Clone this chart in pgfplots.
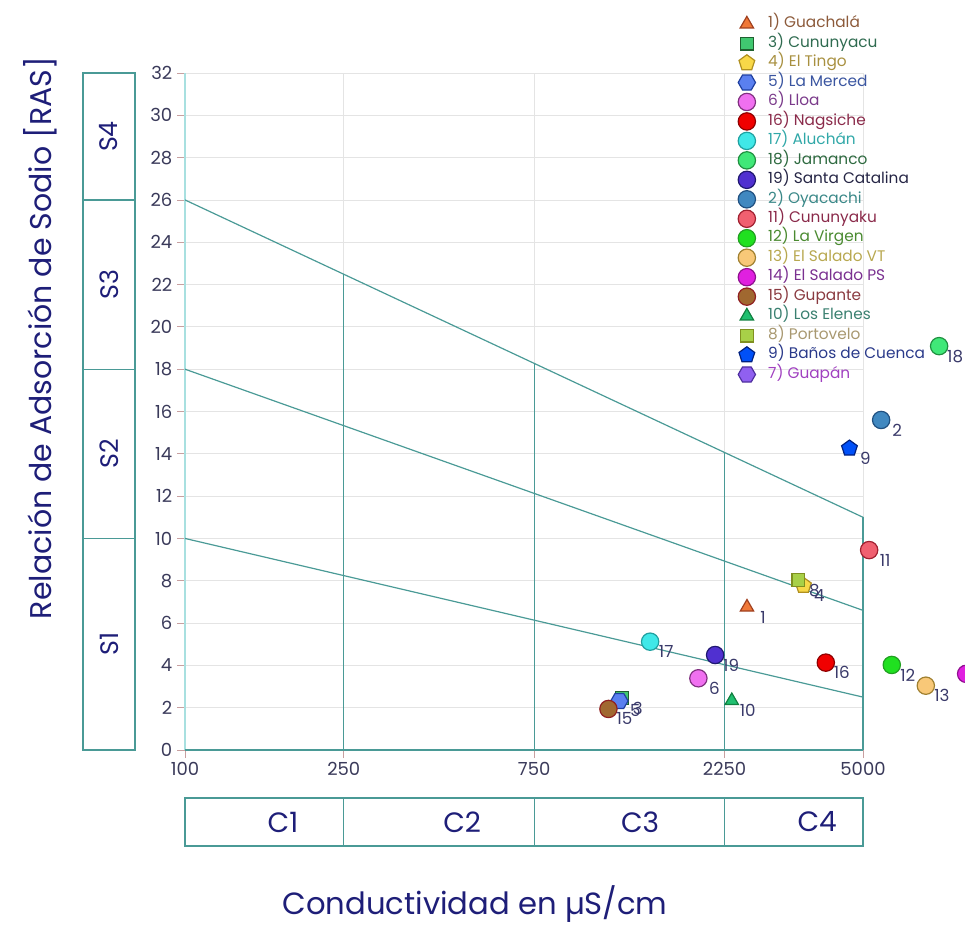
\documentclass[border=0pt]{standalone}
\usepackage{pgfplots}
\pgfplotsset{compat=1.18}
\usepackage{fontspec}
\setmainfont{Poppins}
\usetikzlibrary{plotmarks}

\pgfdeclareplotmark{hexagon*}{%
  \pgfpathmoveto{\pgfpointpolar{0}{\pgfplotmarksize}}%
  \pgfpathlineto{\pgfpointpolar{60}{\pgfplotmarksize}}%
  \pgfpathlineto{\pgfpointpolar{120}{\pgfplotmarksize}}%
  \pgfpathlineto{\pgfpointpolar{180}{\pgfplotmarksize}}%
  \pgfpathlineto{\pgfpointpolar{240}{\pgfplotmarksize}}%
  \pgfpathlineto{\pgfpointpolar{300}{\pgfplotmarksize}}%
  \pgfpathclose
  \pgfusepathqfillstroke}

\definecolor{tealc}{HTML}{4A9A96}
\definecolor{gridgray}{HTML}{E4E4E4}
\definecolor{tickred}{HTML}{C8A0A0}
\definecolor{ticktext}{HTML}{3A3A5A}
\definecolor{navy}{HTML}{1E1E78}
\definecolor{leftaxis}{HTML}{A8E0E0}
\definecolor{labtext}{HTML}{3A3A6A}
% marker fills / edges / legend text
\definecolor{f1}{HTML}{F07838}\definecolor{d1}{HTML}{A04020}\definecolor{t1}{HTML}{8C5A3A}
\definecolor{f3}{HTML}{40C870}\definecolor{d3}{HTML}{206030}\definecolor{t3}{HTML}{2F6B50}
\definecolor{f4}{HTML}{F8D848}\definecolor{d4}{HTML}{B09020}\definecolor{t4}{HTML}{A89040}
\definecolor{f5}{HTML}{5A80F0}\definecolor{d5}{HTML}{2040A0}\definecolor{t5}{HTML}{3A55A0}
\definecolor{f6}{HTML}{F070F0}\definecolor{d6}{HTML}{803080}\definecolor{t6}{HTML}{7A3A8A}
\definecolor{f16}{HTML}{F00000}\definecolor{d16}{HTML}{900000}\definecolor{t16}{HTML}{8A2A4A}
\definecolor{f17}{HTML}{40E8E8}\definecolor{d17}{HTML}{20A0A0}\definecolor{t17}{HTML}{30A8A8}
\definecolor{f18}{HTML}{40E878}\definecolor{d18}{HTML}{209040}\definecolor{t18}{HTML}{2E6A40}
\definecolor{f19}{HTML}{5030D0}\definecolor{d19}{HTML}{201870}\definecolor{t19}{HTML}{252545}
\definecolor{f2}{HTML}{4088C0}\definecolor{d2}{HTML}{205080}\definecolor{t2}{HTML}{3A8888}
\definecolor{f11}{HTML}{F06070}\definecolor{d11}{HTML}{A02030}\definecolor{t11}{HTML}{8A2A4A}
\definecolor{f12}{HTML}{20E020}\definecolor{d12}{HTML}{20A020}\definecolor{t12}{HTML}{4A8A30}
\definecolor{f13}{HTML}{F8C878}\definecolor{d13}{HTML}{A08030}\definecolor{t13}{HTML}{B8A850}
\definecolor{f14}{HTML}{E020E0}\definecolor{d14}{HTML}{901090}\definecolor{t14}{HTML}{7A3090}
\definecolor{f15}{HTML}{A06830}\definecolor{d15}{HTML}{902020}\definecolor{t15}{HTML}{8A3A40}
\definecolor{f10}{HTML}{20C070}\definecolor{d10}{HTML}{108040}\definecolor{t10}{HTML}{3A8070}
\definecolor{f8}{HTML}{A8D048}\definecolor{d8}{HTML}{809020}\definecolor{t8}{HTML}{A89870}
\definecolor{f9}{HTML}{0050F8}\definecolor{d9}{HTML}{002080}\definecolor{t9}{HTML}{2A3A8A}
\definecolor{f7}{HTML}{9060F0}\definecolor{d7}{HTML}{5030A0}\definecolor{t7}{HTML}{A040C0}

\pgfplotsset{
  pt/.style n args={4}{only marks, mark=#1, mark size=#2,
    mark options={fill=f#3, draw=d#3, line width=0.9pt},
    nodes near coords={#4}},
}

\begin{document}
\begin{tikzpicture}
\begin{axis}[
  name=ax,
  scale only axis,
  width=508.5pt, height=507.75pt,
  xmode=log, xmin=100, xmax=5000, ymin=0, ymax=32,
  xtick={100,250,750,2250,5000},
  xticklabels={100,250,750,2250,5000},
  ytick={0,2,...,32},
  tick pos=left,
  grid=major,
  major grid style={color=gridgray, line width=0.6pt},
  axis line style={draw=none},
  tick align=outside,
  major tick length=6pt,
  tick style={color=tickred, line width=0.6pt},
  ticklabel style={font=\fontsize{13.5}{15}\selectfont, text=ticktext},
  /pgf/number format/assume math mode=true,
  clip=false,
  every node near coord/.append style={text=labtext, font=\fontsize{12.5}{14}\selectfont, anchor=center, xshift=12pt, yshift=-7.5pt},
  legend cell align=left,
  legend style={at={(axis description cs:0.8155,1.087)}, anchor=north west, draw=none, fill=none,
    font=\fontsize{11.5}{13}\selectfont, row sep=0pt, inner sep=0pt,
    nodes={inner sep=1.5pt, text height=8.6pt, text depth=3pt},
    /tikz/every odd column/.append style={column sep=8pt}},
]
% frame lines
\draw[leftaxis, line width=0.8pt] (axis cs:100,0) -- (axis cs:100,32);
\draw[tealc, line width=0.9pt] (axis cs:100,0) -- (axis cs:5000,0);
% class boundaries
\addplot[tealc, line width=0.9pt, forget plot] coordinates {(100,10) (5000,2.5)};
\addplot[tealc, line width=0.9pt, forget plot] coordinates {(100,18) (5000,6.6)};
\addplot[tealc, line width=0.9pt, forget plot] coordinates {(100,26) (5000,11)};
\addplot[tealc, line width=0.9pt, forget plot] coordinates {(250,0) (250,22.49)};
\addplot[tealc, line width=0.9pt, forget plot] coordinates {(750,0) (750,18.27)};
\addplot[tealc, line width=0.9pt, forget plot] coordinates {(2250,0) (2250,14.06)};
\addplot[tealc, line width=0.9pt, forget plot] coordinates {(5000,0) (5000,11)};

% S boxes
\draw[tealc, line width=0.9pt] ([xshift=-76.5pt]axis cs:100,0) rectangle ([xshift=-37.5pt]axis cs:100,10);
\draw[tealc, line width=0.9pt] ([xshift=-76.5pt]axis cs:100,10) rectangle ([xshift=-37.5pt]axis cs:100,18);
\draw[tealc, line width=0.9pt] ([xshift=-76.5pt]axis cs:100,18) rectangle ([xshift=-37.5pt]axis cs:100,26);
\draw[tealc, line width=0.9pt] ([xshift=-76.5pt]axis cs:100,26) rectangle ([xshift=-37.5pt]axis cs:100,32);
\node[rotate=90, text=navy, font=\fontsize{19}{22}\selectfont] at ([xshift=-57pt]axis cs:100,5) {S1};
\node[rotate=90, text=navy, font=\fontsize{19}{22}\selectfont] at ([xshift=-57pt]axis cs:100,14) {S2};
\node[rotate=90, text=navy, font=\fontsize{19}{22}\selectfont] at ([xshift=-57pt]axis cs:100,22) {S3};
\node[rotate=90, text=navy, font=\fontsize{19}{22}\selectfont] at ([xshift=-57pt]axis cs:100,29) {S4};
% C boxes
\draw[tealc, line width=0.9pt] ([yshift=-36pt]axis cs:100,0) rectangle ([yshift=-72pt]axis cs:5000,0);
\draw[tealc, line width=0.9pt] ([yshift=-36pt]axis cs:250,0) -- ([yshift=-72pt]axis cs:250,0);
\draw[tealc, line width=0.9pt] ([yshift=-36pt]axis cs:750,0) -- ([yshift=-72pt]axis cs:750,0);
\draw[tealc, line width=0.9pt] ([yshift=-36pt]axis cs:2250,0) -- ([yshift=-72pt]axis cs:2250,0);
\node[text=navy, font=\fontsize{21}{24}\selectfont] at ([yshift=-54pt]axis cs:176,0) {C1};
\node[text=navy, font=\fontsize{21}{24}\selectfont] at ([yshift=-54pt]axis cs:495,0) {C2};
\node[text=navy, font=\fontsize{21}{24}\selectfont] at ([yshift=-54pt]axis cs:1382,0) {C3};
\node[text=navy, font=\fontsize{21}{24}\selectfont] at ([yshift=-54pt]axis cs:3837,0) {C4};
% axis titles
\node[rotate=90, text=navy, font=\fontsize{22.5}{26}\selectfont] at ([xshift=-108.75pt]axis cs:100,19.47) {Relación de Adsorción de Sodio [RAS]};
\node[text=navy, font=\fontsize{23}{26}\selectfont, inner sep=0pt] at ([yshift=-115.5pt]axis cs:533,0) {Conductividad en µS/cm};

% data
\addplot[pt={triangle*}{5.8pt}{1}{1}] coordinates {(2560,6.75)};
\addlegendentry{\textcolor{t1}{1) Guachalá}}
\addplot[pt={square*}{4.8pt}{3}{3}] coordinates {(1243,2.45)};
\addlegendentry{\textcolor{t3}{3) Cununyacu}}
\addplot[pt={pentagon*}{6.2pt}{4}{4}] coordinates {(3546,7.77)};
\addlegendentry{\textcolor{t4}{4) El Tingo}}
\addplot[pt={hexagon*}{6.5pt}{5}{5}] coordinates {(1226,2.32)};
\addlegendentry{\textcolor{t5}{5) La Merced}}
\addplot[pt={*}{6.5pt}{6}{6}] coordinates {(1934,3.39)};
\addlegendentry{\textcolor{t6}{6) Lloa}}
\addplot[pt={*}{6.5pt}{16}{16}] coordinates {(4034,4.13)};
\addlegendentry{\textcolor{t16}{16) Nagsiche}}
\addplot[pt={*}{6.5pt}{17}{17}] coordinates {(1464,5.12)};
\addlegendentry{\textcolor{t17}{17) Aluchán}}
\addplot[pt={*}{6.5pt}{18}{18}] coordinates {(7758,19.09)};
\addlegendentry{\textcolor{t18}{18) Jamanco}}
\addplot[pt={*}{6.5pt}{19}{19}] coordinates {(2130,4.49)};
\addlegendentry{\textcolor{t19}{19) Santa Catalina}}
\addplot[pt={*}{6.5pt}{2}{2}] coordinates {(5552,15.6)};
\addlegendentry{\textcolor{t2}{2) Oyacachi}}
\addplot[pt={*}{6.5pt}{11}{11}] coordinates {(5180,9.45)};
\addlegendentry{\textcolor{t11}{11) Cununyaku}}
\addplot[pt={*}{6.5pt}{12}{12}] coordinates {(5903,4.02)};
\addlegendentry{\textcolor{t12}{12) La Virgen}}
\addplot[pt={*}{6.5pt}{13}{13}] coordinates {(7185,3.04)};
\addlegendentry{\textcolor{t13}{13) El Salado VT}}
\addplot[pt={*}{6.5pt}{14}{14}] coordinates {(9066,3.6)};
\addlegendentry{\textcolor{t14}{14) El Salado PS}}
\addplot[pt={*}{6.5pt}{15}{15}] coordinates {(1151,1.94)};
\addlegendentry{\textcolor{t15}{15) Gupante}}
\addplot[pt={triangle*}{5.8pt}{10}{10}] coordinates {(2345,2.33)};
\addlegendentry{\textcolor{t10}{10) Los Elenes}}
\addplot[pt={square*}{4.8pt}{8}{8}] coordinates {(3445,8.03)};
\addlegendentry{\textcolor{t8}{8) Portovelo}}
\addplot[pt={pentagon*}{6.2pt}{9}{9}] coordinates {(4624,14.26)};
\addlegendentry{\textcolor{t9}{9) Baños de Cuenca}}
\addlegendimage{only marks, mark=hexagon*, mark size=6.5pt, mark options={fill=f7, draw=d7, line width=0.9pt}}
\addlegendentry{\textcolor{t7}{7) Guapán}}
\end{axis}
\pgfresetboundingbox
\path[use as bounding box] ([shift={(-138.75pt,-132pt)}]ax.south west) rectangle ([shift={(585pt,562.5pt)}]ax.south west);
\end{tikzpicture}
\end{document}
